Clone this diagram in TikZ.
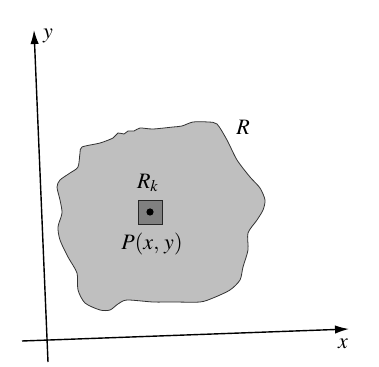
\documentclass[tikz,border=0pt]{standalone}
\usepackage{mathptmx}
\usetikzlibrary{arrows.meta}
\tikzset{
  axis/.style={line width=0.7pt,-{Latex[length=7pt,width=4.2pt]}},
  blob/.style={fill=black!25,draw=black!80,line width=0.4pt},
  cell/.style={fill=black!50,draw=black!85,line width=0.4pt},
  lab/.style={font=\fontsize{11}{13}\selectfont}
}
\begin{document}
\begin{tikzpicture}[x=0.5pt,y=-0.5pt]
\useasboundingbox (0,0) rectangle (379,367);
\coordinate (O1) at (48,362);
\coordinate (Ytip) at (34,30);
\coordinate (O2) at (22,341);
\coordinate (Xtip) at (349,329);
\draw[axis] (O1)--(Ytip);
\draw[axis] (O2)--(Xtip);
\node[lab] (ylab) at (48,36) {$y$};
\node[lab] (xlab) at (343,344) {$x$};
\draw[blob] plot[smooth cycle,tension=0.45] coordinates {
 (82,147) (100,143) (113,138) (118,133) (124,134) (128,131) (134,131)
 (140,128) (153,129) (173,127) (182,126) (193,122) (208,122) (217,124)
 (227,140) (237,160) (250,177) (260,188) (265,200) (263,210) (257,220)
 (248,233) (248,250) (243,267) (240,280) (230,290) (213,298) (200,302)
 (173,302) (153,302) (127,300) (118,304) (110,310) (100,310) (85,303)
 (78,290) (77,273) (68,257) (60,240) (58,227) (62,213) (60,200)
 (57,187) (60,180) (70,173) (78,167) (80,153)};
\node[lab] (R) at (243,127) {$R$};
\draw[cell] (138,200) rectangle (162,224);
\coordinate (P) at (150,212);
\fill (P) circle (3.6);
\node[lab] (Rk) at (148,183) {$R_k$};
\node[lab] (Plab) at (152,244) {$P(x,\,y)$};
\end{tikzpicture}
\end{document}
